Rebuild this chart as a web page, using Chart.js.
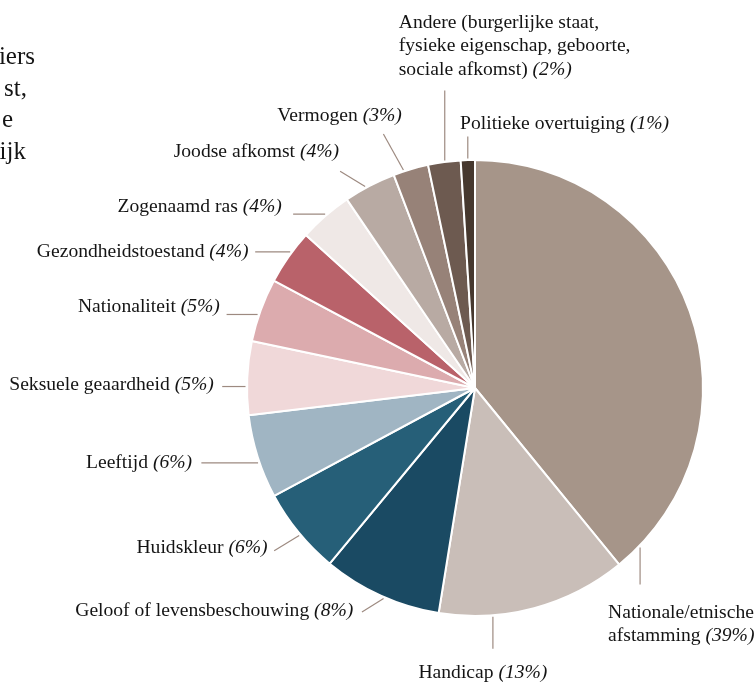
<!DOCTYPE html>
<html>
<head>
<meta charset="utf-8">
<script src="https://cdn.jsdelivr.net/npm/chart.js@4/dist/chart.umd.min.js"></script>
<style>
  html, body { margin: 0; padding: 0; background: #ffffff; }
  #wrap { position: relative; width: 756px; height: 682px; overflow: hidden; }
  canvas { display: block; }
</style>
</head>
<body>
<div id="wrap"><canvas id="c" width="756" height="682"></canvas></div>
<script>
// ---- data ----
const categories = [
  "Nationale/etnische\nafstamming",
  "Handicap",
  "Geloof of levensbeschouwing",
  "Huidskleur",
  "Leeftijd",
  "Seksuele geaardheid",
  "Nationaliteit",
  "Gezondheidstoestand",
  "Zogenaamd ras",
  "Joodse afkomst",
  "Vermogen",
  "Andere (burgerlijke staat,\nfysieke eigenschap, geboorte,\nsociale afkomst)",
  "Politieke overtuiging"
];
const shares = [39.1, 13.45, 8.45, 6.15, 5.95, 5.2, 4.5, 3.9, 3.8, 3.7, 2.5, 2.3, 1.0];
const shownPercent = ["39%", "13%", "8%", "6%", "6%", "5%", "5%", "4%", "4%", "4%", "3%", "2%", "1%"];
const sideText = ["iers", "st,", "e", "ijk"];

// ---- styles ----
const sliceColors = [
  "#a69589", "#c9beb8", "#1a4a63", "#265f78", "#a0b5c3", "#f0d8d9", "#dcabae",
  "#b9626a", "#efe8e6", "#b8aaa3", "#978278", "#6d5a50", "#46382e"
];
// label placement relative to each slice: t = fraction along the arc,
// lead = leader vector from edge, off = text anchor offset from leader end
const labelLayout = [
  { t: 0.952, lead: [0, 37],        off: [-32, 28],    align: "left" },
  { t: 0.718, lead: [0, 32],        off: [-10, 24],    align: "center" },
  { t: 0.47,  lead: [-21.6, 13.4],  off: [-8.7, -0.7], align: "right" },
  { t: 0.47,  lead: [-25, 15.3],    off: [-6.6, -3],   align: "right" },
  { t: 0.43,  lead: [-56.7, 0],     off: [-9.3, 0],    align: "right" },
  { t: 0.385, lead: [-23.3, 0],     off: [-8.4, -2],   align: "right" },
  { t: 0.42,  lead: [-31, 0],       off: [-6.7, -8],   align: "right" },
  { t: 0.59,  lead: [-35, 0],       off: [-6.7, 0],    align: "right" },
  { t: 0.52,  lead: [-32, 0],       off: [-11.3, -7.5],align: "right" },
  { t: 0.42,  lead: [-25, -15.3],   off: [-1, -19.7],  align: "right" },
  { t: 0.30,  lead: [-20, -36],     off: [18.4, -18.3],align: "right" },
  { t: 0.52,  lead: [0, -70],       off: [-46, -68],   align: "left" },
  { t: 0.5,   lead: [0, -22],       off: [-7.7, -13],  align: "left" }
];
const FONT_SIZE = 19.6;
const LINE_H = 23.7;
const TEXT_COLOR = "#141414";
const LEADER_COLOR = "#9d8a80";

const labelPlugin = {
  id: "pieLabels",
  afterDatasetsDraw(chart) {
    const ctx = chart.ctx;
    const meta = chart.getDatasetMeta(0);
    const regular = FONT_SIZE + 'px "Liberation Serif", "Times New Roman", serif';
    const italic = 'italic ' + FONT_SIZE + 'px "Liberation Serif", "Times New Roman", serif';
    ctx.save();
    meta.data.forEach((arc, i) => {
      const p = arc.getProps(["x", "y", "startAngle", "endAngle", "outerRadius"], true);
      const L = labelLayout[i];
      const a = p.startAngle + L.t * (p.endAngle - p.startAngle);
      const r = p.outerRadius + 1.5;
      const x0 = p.x + r * Math.cos(a), y0 = p.y + r * Math.sin(a);
      const x1 = x0 + L.lead[0], y1 = y0 + L.lead[1];
      ctx.strokeStyle = LEADER_COLOR;
      ctx.lineWidth = 1.2;
      ctx.beginPath(); ctx.moveTo(x0, y0); ctx.lineTo(x1, y1); ctx.stroke();

      const lines = categories[i].split("\n");
      const ax = x1 + L.off[0];
      const ay = y1 + L.off[1];
      ctx.fillStyle = TEXT_COLOR;
      ctx.textBaseline = "middle";
      lines.forEach((ln, k) => {
        const last = k === lines.length - 1;
        const pct = last ? "(" + shownPercent[i] + ")" : "";
        const main = last ? ln + " " : ln;
        ctx.font = regular; const w1 = ctx.measureText(main).width;
        ctx.font = italic; const w2 = pct ? ctx.measureText(pct).width : 0;
        const total = w1 + w2;
        let sx = ax;
        if (L.align === "right") sx = ax - total;
        else if (L.align === "center") sx = ax - total / 2;
        const yy = ay + k * LINE_H;
        ctx.textAlign = "left";
        ctx.font = regular; ctx.fillText(main, sx, yy);
        if (pct) { ctx.font = italic; ctx.fillText(pct, sx + w1, yy); }
      });
    });
    // clipped page text at left edge
    ctx.font = '25px "Liberation Serif", "Times New Roman", serif';
    ctx.textAlign = "right";
    ctx.textBaseline = "alphabetic";
    ctx.fillStyle = TEXT_COLOR;
    const sideX = [35, 27, 13, 26];
    sideText.forEach((s, k) => ctx.fillText(s, sideX[k], 64 + k * 31.5));
    ctx.restore();
  }
};

new Chart(document.getElementById("c"), {
  type: "pie",
  data: {
    labels: categories,
    datasets: [{
      data: shares,
      backgroundColor: sliceColors,
      borderColor: "#ffffff",
      borderWidth: 2,
      hoverOffset: 0
    }]
  },
  options: {
    responsive: false,
    devicePixelRatio: 1,
    animation: false,
    layout: { padding: { left: 246, top: 159, right: 52, bottom: 65 } },
    plugins: { legend: { display: false }, tooltip: { enabled: false } }
  },
  plugins: [labelPlugin]
});
</script>
</body>
</html>
